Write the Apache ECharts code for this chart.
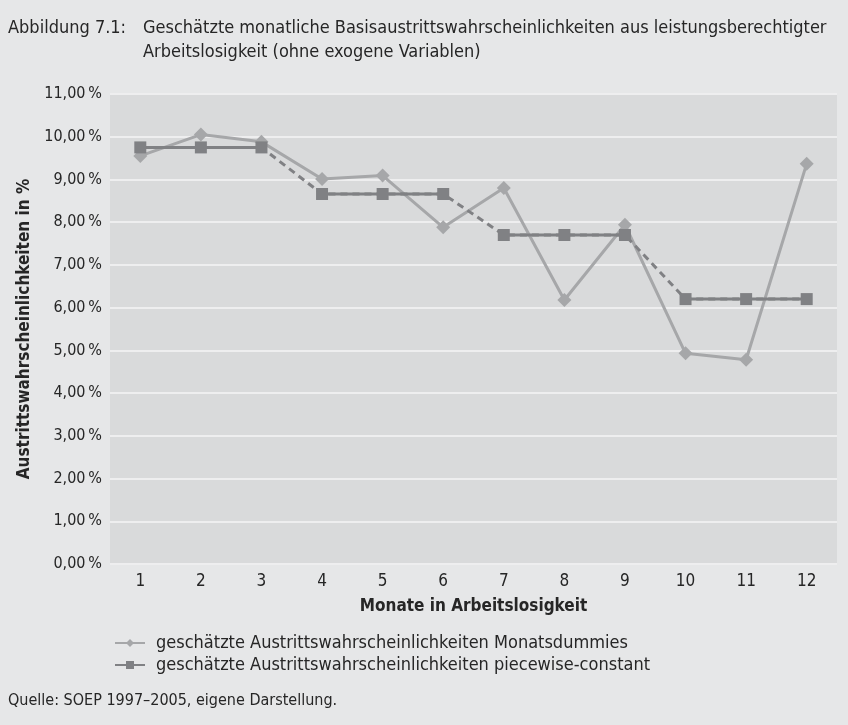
<!DOCTYPE html>
<html><head><meta charset="utf-8">
<script src="https://cdn.jsdelivr.net/npm/echarts@6/dist/echarts.min.js"></script>
<style>html,body{margin:0;padding:0;background:#e6e7e8;}#c{width:848px;height:725px;}</style>
</head><body><div id="c"></div>
<script>
const months = ['1','2','3','4','5','6','7','8','9','10','11','12'];
const monatsdummies = [9.55, 10.05, 9.88, 9.01, 9.09, 7.88, 8.80, 6.18, 7.94, 4.93, 4.78, 9.37];
const piecewise = [9.75, 9.75, 9.75, 8.66, 8.66, 8.66, 7.70, 7.70, 7.70, 6.20, 6.20, 6.20];
const pieceGroup = [1,1,1,2,2,2,3,3,3,4,4,4];

const nameA = 'geschätzte Austrittswahrscheinlichkeiten Monatsdummies';
const nameB = 'geschätzte Austrittswahrscheinlichkeiten piecewise-constant';
const FONT = '"Liberation Sans Narrow","DejaVu Sans Condensed","Open Sans",sans-serif';
const light = '#a6a7a9', dark = '#808184', txt = '#262626';

const segSeries = [1,2,3,4].map(g => ({
  name: nameB, type: 'line', z: 4,
  data: piecewise.map((v,i) => pieceGroup[i] === g ? v : null),
  symbol: 'rect', symbolSize: 12,
  itemStyle: {color: dark}, lineStyle: {color: dark, width: 3},
  showSymbol: true, connectNulls: false, animation: false
}));

const chart = echarts.init(document.getElementById('c'));
chart.setOption({
  backgroundColor: '#e6e7e8',
  textStyle: {fontFamily: FONT},
  graphic: [
    {type:'text', left: 8, top: 19, style:{text:'Abbildung 7.1:', font:'18px '+FONT, fill:txt}},
    {type:'text', left: 143, top: 19, style:{text:'Geschätzte monatliche Basisaustrittswahrscheinlichkeiten aus leistungsberechtigter', font:'18px '+FONT, fill:txt}},
    {type:'text', left: 143, top: 43, style:{text:'Arbeitslosigkeit (ohne exogene Variablen)', font:'18px '+FONT, fill:txt}},
    {type:'text', left: 8, top: 693, style:{text:'Quelle: SOEP 1997–2005, eigene Darstellung.', font:'16px '+FONT, fill:txt}}
  ],
  grid: {left: 110, right: 11, top: 94, bottom: 161, show: true, backgroundColor: '#d9dadb', borderWidth: 0},
  legend: {
    orient: 'vertical', left: 109, top: 629, itemGap: 4, itemWidth: 30, itemHeight: 10,
    data: [nameA, nameB],
    textStyle: {fontSize: 18, color: txt, fontFamily: FONT, padding: [0,0,0,6]}
  },
  xAxis: {
    type: 'category', data: months, boundaryGap: true,
    axisLine: {show: false}, axisTick: {show: false},
    axisLabel: {fontSize: 17, color: txt, margin: 9},
    name: 'Monate in Arbeitslosigkeit', nameLocation: 'middle', nameGap: 34,
    nameTextStyle: {fontSize: 17, fontWeight: 'bold', color: txt}
  },
  yAxis: {
    type: 'value', min: 0, max: 11, interval: 1,
    axisLine: {show: false}, axisTick: {show: false},
    axisLabel: {fontSize: 16, color: txt, margin: 8,
      formatter: v => v.toFixed(2).replace('.', ',') + '\u2009%'},
    splitLine: {lineStyle: {color: '#eeeeef', width: 2}},
    name: 'Austrittswahrscheinlichkeiten in %', nameLocation: 'middle', nameGap: 67,
    nameTextStyle: {fontSize: 17, fontWeight: 'bold', color: txt}
  },
  series: [
    {name: nameA, type: 'line', z: 2, data: monatsdummies, symbol: 'diamond', symbolSize: 14,
     itemStyle: {color: light}, lineStyle: {color: light, width: 3}, animation: false},
    {name: 'dashed', type: 'line', z: 3, data: piecewise, symbol: 'none',
     lineStyle: {color: dark, width: 3, type: [7, 5]}, animation: false}
  ].concat(segSeries)
});
</script></body></html>
